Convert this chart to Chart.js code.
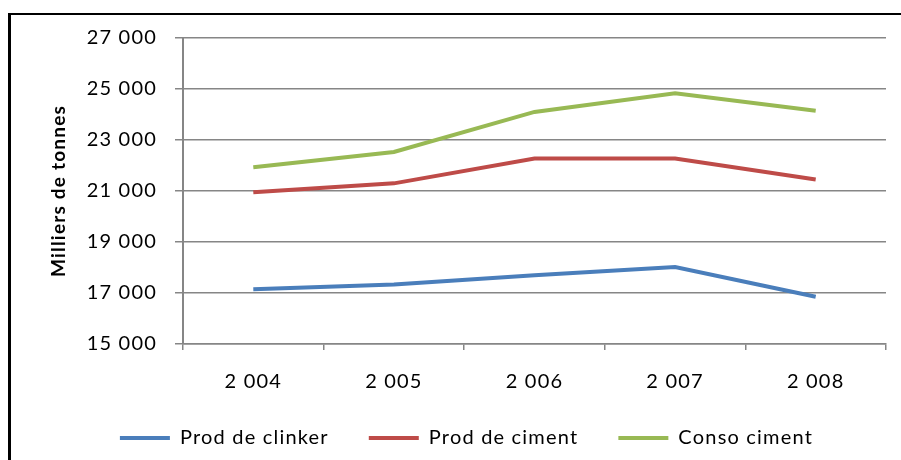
<!DOCTYPE html>
<html>
<head>
<meta charset="utf-8">
<script src="https://cdn.jsdelivr.net/npm/chart.js@4/dist/chart.umd.min.js"></script>
<style>
	body { margin: 0; background: #fff; }
	#wrap { position: relative; width: 901px; height: 460px; }
	#frame { position: absolute; left: 8px; top: 13px; right: 0; bottom: 0; border-top: 2px solid #000; border-left: 3px solid #000; pointer-events: none; }
</style>
</head>
<body>
<div id="wrap">
	<canvas id="chart" width="901" height="460"></canvas>
	<div id="frame"></div>
</div>
<script>
	//données du graphique
	let years = ['2 004', '2 005', '2 006', '2 007', '2 008'];
	let prodClinker = [17150, 17330, 17700, 18020, 16850];
	let prodCiment = [20950, 21300, 22270, 22270, 21450];
	let consoCiment = [21930, 22530, 24100, 24830, 24150];
	let seriesNames = ['Prod de clinker', 'Prod de ciment', 'Conso ciment'];
	let seriesColors = ['#4A7EBB', '#BE4B48', '#98B954'];
	let yMin = 15000, yMax = 27000, yStep = 2000;

	let font = 'Lato, "Liberation Sans", sans-serif';

	//formatage des milliers avec espace
	function milliers(v) {
		return String(v).replace(/\B(?=(\d{3})+(?!\d))/g, ' ');
	}

	//texte un peu plus espacé (comme dans l'original)
	let spacing = {
		id: 'spacing',
		beforeLayout: function (chart) { chart.ctx.letterSpacing = '1.2px'; },
		beforeDraw: function (chart) { chart.ctx.letterSpacing = '1.2px'; }
	};

	let datasets = [prodClinker, prodCiment, consoCiment].map(function (values, i) {
		return {
			label: seriesNames[i],
			data: values,
			borderColor: seriesColors[i],
			backgroundColor: seriesColors[i],
			borderWidth: 4,
			pointRadius: 0,
			tension: 0
		};
	});

	let ctx = document.getElementById('chart').getContext('2d');
	let myChart = new Chart(ctx, {
		type: 'line',
		data: { labels: years, datasets: datasets },
		plugins: [spacing],
		options: {
			responsive: false,
			animation: false,
			layout: { padding: { left: 47, top: 38, right: 15, bottom: 2 } },
			plugins: {
				tooltip: { enabled: false },
				legend: {
					position: 'bottom',
					labels: {
						usePointStyle: true,
						pointStyle: 'line',
						pointStyleWidth: 50,
						padding: 40,
						color: '#000',
						font: { family: font, size: 20 }
					}
				}
			},
			scales: {
				x: {
					offset: true,
					grid: { offset: true, drawOnChartArea: false, drawTicks: true, tickLength: 6, color: '#868686', lineWidth: 1.5 },
					border: { color: '#868686', width: 1.5 },
					ticks: { color: '#000', padding: 20, font: { family: font, size: 20 }, maxRotation: 0 },
					afterFit: function (scale) { scale.height = 44; }
				},
				y: {
					min: yMin,
					max: yMax,
					grid: { color: '#868686', lineWidth: 1.5, tickLength: 8 },
					border: { color: '#868686', width: 2 },
					ticks: {
						stepSize: yStep,
						color: '#000',
						padding: 18,
						font: { family: font, size: 20 },
						callback: function (v) { return milliers(v); }
					},
					title: {
						display: true,
						text: 'Milliers de tonnes',
						color: '#000',
						padding: 0,
						font: { family: font, size: 19, weight: 'bold' }
					},
					afterFit: function (scale) { scale.width = 136; }
				}
			}
		}
	});
</script>
</body>
</html>
